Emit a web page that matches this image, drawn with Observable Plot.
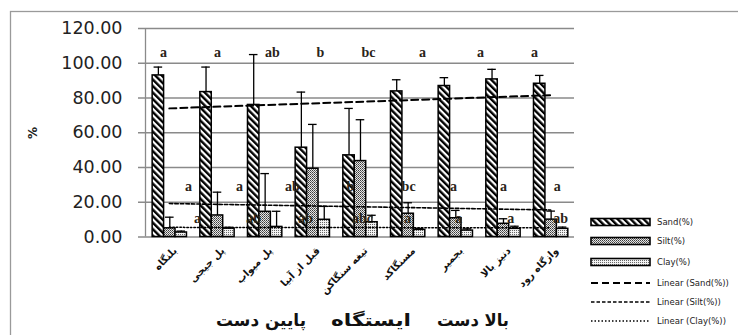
<!DOCTYPE html>
<html><head><meta charset="utf-8">
<script src="https://cdn.jsdelivr.net/npm/d3@7"></script>
<script src="https://cdn.jsdelivr.net/npm/@observablehq/plot@0.6"></script>
<style>body{margin:0;background:#fff} svg{display:block}</style>
</head><body><div id="chart"></div>
<script>
// ---- data ----
const stations = ["بلنگاه", "پل جیجی", "پل میواب", "قبل از آبیا", "تیغه سنگاکن", "مسنگاکد", "بجمیر", "دنیز بالا", "وازگاه رود"];
const sand   = [93.0, 83.4, 76.0, 51.4, 47.0, 83.8, 86.9, 90.7, 88.2];
const sandSd = [4.8, 14.4, 29.0, 32.0, 27.0, 6.7, 4.8, 5.8, 4.8];
const silt   = [5.0, 12.4, 14.5, 39.3, 43.7, 13.4, 10.8, 7.6, 10.0];
const siltSd = [6.4, 13.4, 22.0, 25.5, 23.8, 6.3, 4.5, 2.9, 4.9];
const clay   = [2.6, 4.8, 5.8, 9.9, 8.5, 4.1, 3.7, 4.7, 4.7];
const claySd = [0.8, 0.8, 9.0, 7.7, 4.0, 0.8, 1.0, 1.5, 1.0];
const seriesNames = ["Sand(%)", "Silt(%)", "Clay(%)"];
const yTicks = [0, 20, 40, 60, 80, 100, 120];
// significance letters (text boxes, placed along the category axis)
const sandLetters = ["a", "a", "ab", "b", "bc", "a", "a", "a"];
const sandLetterAt = [0.88, 2.01, 3.16, 4.17, 5.18, 6.31, 7.53, 8.66];
const siltLetters = ["a", "a", "ab", "b", "bc", "a", "a", "a"];
const siltLetterAt = [1.40, 2.47, 3.58, 4.80, 6.02, 6.96, 8.01, 9.14];
const clayLetters = ["a", "ab", "ab", "abc", "a", "a", "a", "ab"];
const clayLetterAt = [1.59, 2.77, 3.86, 5.05, 6.00, 7.07, 8.16, 9.21];
const sandLetterY = 106.3, siltLetterY = 29.1, clayLetterY = 10.7;
const axisTitle = ["پایین دست", "ایستگاه", "بالا دست"];
const legendLabels = ["Sand(%)", "Silt(%)", "Clay(%)", "Linear (Sand(%))", "Linear (Silt(%))", "Linear (Clay(%))"];

// ---- build table ----
const values = [sand, silt, clay], sds = [sandSd, siltSd, claySd];
const offsets = [-0.23, 0.01, 0.25], half = 0.12, cap = 0.09;
const fills = ["url(#pSand)", "url(#pSilt)", "url(#pClay)"];
const rows = [];
stations.forEach((st, k) => {
  seriesNames.forEach((s, j) => {
    rows.push({station: st, i: k + 1, series: s, j, value: values[j][k], sd: sds[j][k], xc: k + 1 + offsets[j]});
  });
});
const letters = [
  ...sandLetters.map((t, k) => ({t, x: sandLetterAt[k], y: sandLetterY})),
  ...siltLetters.map((t, k) => ({t, x: siltLetterAt[k], y: siltLetterY})),
  ...clayLetters.map((t, k) => ({t, x: clayLetterAt[k], y: clayLetterY}))
];
const trendStyles = [
  {strokeDasharray: "7,4", strokeWidth: 2},
  {strokeDasharray: "3.5,2", strokeWidth: 1.6},
  {strokeDasharray: "1.5,2", strokeWidth: 1.5}
];

const chart = Plot.plot({
  width: 738, height: 335,
  marginLeft: 145, marginRight: 164, marginTop: 28, marginBottom: 98.5,
  style: {fontFamily: "DejaVu Sans", background: "white", overflow: "visible"},
  x: {domain: [0.5, 9.5], axis: null},
  y: {domain: [0, 120], axis: null},
  marks: [
    Plot.ruleY(yTicks, {y: d => d, x1: 0.5 - 7 / 47.67, x2: 9.5, stroke: "#8a8a8a", strokeWidth: 1.3}),
    Plot.ruleX([0.5], {y1: 0, y2: 120, stroke: "#8a8a8a", strokeWidth: 1.3}),
    Plot.text(yTicks, {x: 0.5, y: d => d, text: d => d.toFixed(2), textAnchor: "end", dx: -23, fontSize: 17.5, fill: "#222"}),
    Plot.rect(rows, {x1: d => d.xc - half, x2: d => d.xc + half, y1: 0, y2: "value", fill: d => fills[d.j], stroke: "black", strokeWidth: 1.5}),
    Plot.ruleX(rows, {x: "xc", y1: "value", y2: d => d.value + d.sd, stroke: "black", strokeWidth: 1.3}),
    Plot.ruleY(rows, {y: d => d.value + d.sd, x1: d => d.xc - cap, x2: d => d.xc + cap, stroke: "black", strokeWidth: 1.3}),
    ...seriesNames.map((s, j) => Plot.linearRegressionY(rows.filter(d => d.j === j), {x: "i", y: "value", ci: 0, stroke: "black", ...trendStyles[j]})),
    Plot.text(letters, {x: "x", y: "y", text: "t", fontFamily: "Liberation Serif", fontWeight: "bold", fontSize: 14, fill: "#2a2418"}),
    Plot.text(stations, {x: (d, k) => k + 1, y: 0, text: d => d, rotate: -45, textAnchor: "end", dx: 6, dy: 12, fontSize: 10, fontWeight: "bold", fill: "#111"})
  ]
});

const svg = d3.select(chart);
const defs = svg.insert("defs", ":first-child");
const ps = defs.append("pattern").attr("id", "pSand").attr("patternUnits", "userSpaceOnUse")
  .attr("width", 4.6).attr("height", 4.6).attr("patternTransform", "rotate(-45)");
ps.append("rect").attr("width", 4.6).attr("height", 4.6).attr("fill", "white");
ps.append("rect").attr("width", 2.4).attr("height", 4.6).attr("fill", "black");
const pt = defs.append("pattern").attr("id", "pSilt").attr("patternUnits", "userSpaceOnUse").attr("width", 2).attr("height", 2);
pt.append("rect").attr("width", 2).attr("height", 2).attr("fill", "#e6e6e6");
pt.append("rect").attr("width", 1).attr("height", 1).attr("fill", "#3a3a3a");
pt.append("rect").attr("x", 1).attr("y", 1).attr("width", 1).attr("height", 1).attr("fill", "#6a6a6a");
const pc = defs.append("pattern").attr("id", "pClay").attr("patternUnits", "userSpaceOnUse").attr("width", 2).attr("height", 2);
pc.append("rect").attr("width", 2).attr("height", 2).attr("fill", "#f2f2f2");
pc.append("rect").attr("width", 1).attr("height", 1).attr("fill", "#666");

// outer chart-area border
svg.append("rect").attr("x", 10.5).attr("y", 11.5).attr("width", 800).attr("height", 400)
  .attr("fill", "none").attr("stroke", "#9a9a9a").attr("stroke-width", 1.3);

// y-axis title
svg.append("text").attr("transform", "translate(33,133) rotate(-90)").attr("text-anchor", "middle")
  .attr("dy", "0.35em").attr("font-size", 12).attr("font-weight", "bold").attr("fill", "#222").text("%");

// x-axis title (three pieces)
const titleX = [261, 371, 473];
const titleW = [90, 80, 72];
axisTitle.forEach((t, k) => {
  svg.append("text").attr("x", titleX[k]).attr("y", 320).attr("text-anchor", "middle").attr("dy", "0.35em")
    .attr("font-size", 17).attr("font-weight", "bold").attr("fill", "#111")
    .attr("textLength", titleW[k]).attr("lengthAdjust", "spacingAndGlyphs").text(t);
});

// legend
const ly = [222, 241, 262, 283, 302, 321];
const lg = svg.append("g").attr("text-anchor", "start");
legendLabels.forEach((t, k) => {
  if (k < 3) {
    lg.append("rect").attr("x", 591).attr("y", ly[k] - 3.5).attr("width", 59).attr("height", 7)
      .attr("fill", fills[k]).attr("stroke", "black").attr("stroke-width", 1.6);
  } else {
    const st = trendStyles[k - 3];
    lg.append("line").attr("x1", 591).attr("x2", 650).attr("y1", ly[k]).attr("y2", ly[k])
      .attr("stroke", "black").attr("stroke-width", st.strokeWidth).attr("stroke-dasharray", st.strokeDasharray);
  }
  lg.append("text").attr("x", 657).attr("y", ly[k]).attr("dy", "0.35em").attr("font-size", 8.5)
    .attr("text-anchor", "start").attr("fill", "#222").text(t);
});

document.getElementById("chart").append(chart);
</script>
</body></html>
